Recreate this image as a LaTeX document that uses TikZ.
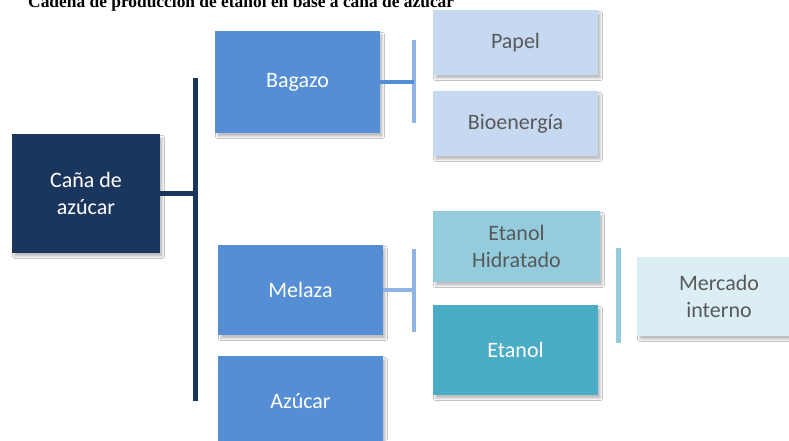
\documentclass[tikz,border=0pt]{standalone}
\usepackage{fontspec}
\setmainfont{Carlito}
\newfontfamily\titlefont{Liberation Serif}
\usetikzlibrary{shadows.blur}
\definecolor{navy}{HTML}{1A365D}
\definecolor{midblue}{HTML}{558ED5}
\definecolor{paleblue}{HTML}{C6D9F1}
\definecolor{lineblue}{HTML}{8EB4E3}
\definecolor{aquaA}{HTML}{93CDDD}
\definecolor{aquaB}{HTML}{4BACC6}
\definecolor{aquaC}{HTML}{DBEEF4}
\definecolor{graytext}{HTML}{595959}
\tikzset{
  box/.style={rectangle, inner sep=2pt, align=center,
    font=\fontsize{22}{26.5}\selectfont,
    blur shadow={shadow xshift=2.5pt, shadow yshift=-3.5pt, shadow blur radius=2pt, shadow opacity=25}},
  darkbox/.style={box, fill=navy, text=white},
  midbox/.style={box, fill=midblue, text=white},
  palebox/.style={box, fill=paleblue, text=graytext},
  hidbox/.style={box, fill=aquaA, text=graytext},
  etabox/.style={box, fill=aquaB, text=white},
  merbox/.style={box, fill=aquaC, text=graytext},
  conn/.style={line width=#1},
  conn/.default=4pt
}
\begin{document}
\begin{tikzpicture}[x=1pt,y=1pt]
\clip (0,0) rectangle (789,440);
\fill[white] (0,0) rectangle (789,440);
% title (cut off at the top)
\node[anchor=base west, inner sep=0, font=\titlefont\bfseries\fontsize{17.4}{20}\selectfont] (title) at (28,432) {Cadena de producción de etanol en base a caña de azúcar};
% boxes
\node[darkbox, minimum width=148, minimum height=119] (cana) at (86,246.5) {Caña de\\azúcar};
\node[midbox, minimum width=165, minimum height=102] (bagazo) at (297.5,358) {Bagazo};
\node[midbox, minimum width=165, minimum height=90] (melaza) at (300.5,150) {Melaza};
\node[midbox, minimum width=165, minimum height=90] (azucar) at (300.5,39) {Azúcar};
\node[palebox, minimum width=165, minimum height=65] (papel) at (515.5,397.5) {Papel};
\node[palebox, minimum width=165, minimum height=65] (bio) at (515.5,316.5) {Bioenergía};
\node[hidbox, minimum width=167, minimum height=71] (hid) at (516.5,193.5) {Etanol\\Hidratado};
\node[etabox, minimum width=165, minimum height=90] (etanol) at (515.5,90) {Etanol};
\node[merbox, minimum width=164, minimum height=79] (mercado) at (719,143.5) {Mercado\\interno};
% connectors
\coordinate (spineT) at (195.75,362);
\coordinate (spineB) at (195.75,39);
\draw[conn=5pt, navy] (spineT) -- (spineB);
\draw[conn=5pt, navy] (cana.east) -- (cana.east -| spineT);
\coordinate (bagT) at (414,400);
\coordinate (bagB) at (414,317);
\draw[conn, lineblue] (bagT) -- (bagB);
\draw[conn, midblue] (bagazo.east) -- (bagazo.east -| bagT);
\coordinate (melT) at (414,191);
\coordinate (melB) at (414,108);
\draw[conn, lineblue] (melT) -- (melB);
\draw[conn, lineblue] (melaza.east) -- (melaza.east -| melT);
\coordinate (etaT) at (618.5,192);
\coordinate (etaB) at (618.5,97);
\draw[conn=4.5pt, aquaA] (etaT) -- (etaB);
\end{tikzpicture}
\end{document}
